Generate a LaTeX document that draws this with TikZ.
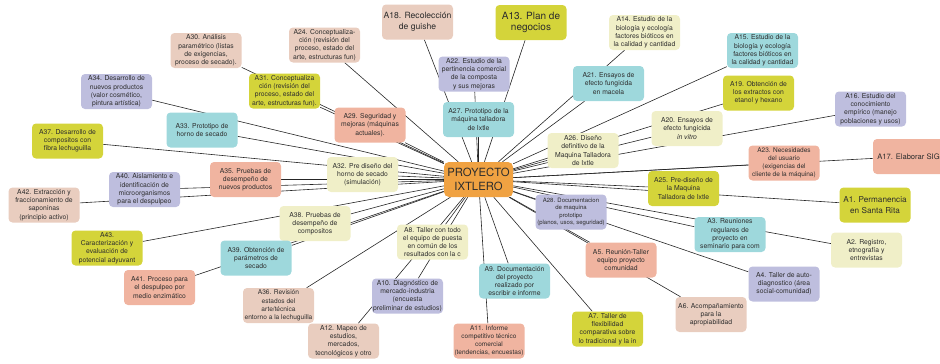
\documentclass[tikz,border=0pt]{standalone}
\usepackage{fontspec}
\setmainfont{TeX Gyre Heros}
\usepackage{tikz}
\usetikzlibrary{backgrounds}
\usepackage{xcolor}
\definecolor{peach}{RGB}{233,205,191}
\definecolor{salmon}{RGB}{240,180,160}
\definecolor{mustard}{RGB}{212,212,58}
\definecolor{cream}{RGB}{240,239,200}
\definecolor{teal}{RGB}{158,216,220}
\definecolor{lilac}{RGB}{190,190,222}
\definecolor{orange}{RGB}{240,162,66}
\definecolor{ink}{RGB}{45,45,45}

\tikzset{
  act/.style={rectangle, rounded corners=4pt, fill=#1, text=ink,
    minimum width=71pt, minimum height=35pt, inner sep=1pt, align=center,
    font=\fontsize{6.8}{8.2}\selectfont},
  big/.style={font=\fontsize{8.6}{10.6}\selectfont},
  hub/.style={rectangle, rounded corners=5pt, fill=orange, text=ink,
    minimum width=69pt, minimum height=35pt, inner sep=1pt, align=center,
    font=\fontsize{11.3}{13.3}\selectfont},
  link/.style={draw=black!85, line width=0.6pt}
}

\begin{document}
\begin{tikzpicture}[x=1pt, y=-1pt]

  \useasboundingbox (0,0) rectangle (940,364);

  % Centre
  \node[hub] (proy) at (478.5,179.5) {PROYECTO\\IXTLERO};

  % Top
  \node[act=peach] (a30) at (206,50.5) {A30. Análisis\\paramétrico (listas\\de exigencias,\\proceso de secado).};
  \node[act=peach] (a24) at (324.5,45) {A24. Conceptualiza-\\ción (revisión del\\proceso, estado del\\arte, estructuras fun)};
  \node[act=peach, big] (a18) at (417.5,22) {A18. Recolección\\de guishe};
  \node[act=mustard, font=\fontsize{10}{11}\selectfont] (a13) at (531,22.5) {A13. Plan de\\negocios};
  \node[act=cream] (a14) at (644.5,32.5) {A14. Estudio de la\\biología y ecología\\factores bióticos en\\la calidad y cantidad};
  \node[act=teal] (a15) at (762.5,50.5) {A15. Estudio de la\\biología y ecología\\factores bióticos en\\la calidad y cantidad};
  \node[act=lilac] (a22) at (474,74) {A22. Estudio de la\\pertinencia comercial\\de la composta\\y sus mejoras};
  \node[act=teal] (a21) at (608.5,83.5) {A21. Ensayos de\\efecto fungicida\\en macela};
  \node[act=mustard] (a19) at (758.5,93) {A19. Obtención de\\los extractos con\\etanol y hexano};
  \node[act=lilac] (a16) at (870.5,109) {A16. Estudio del\\conocimiento\\empírico (manejo\\poblaciones y usos)};
  \node[act=lilac] (a34) at (116.5,91.5) {A34. Desarrollo de\\nuevos productos\\(valor cosmético,\\pintura artística)};
  \node[act=mustard] (a31) at (284.5,91) {A31. Conceptualiza\\ción (revisión del\\proceso, estado del\\arte, estructuras fun).};
  \node[act=teal] (a27) at (478.5,119.5) {A27. Prototipo de la\\máquina talladora\\de Ixtle};
  \node[act=salmon] (a29) at (370,125) {A29. Seguridad y\\mejoras (máquinas\\actuales).};
  \node[act=teal] (a33) at (202,130) {A33. Prototipo de\\horno de secado};
  \node[act=cream] (a20) at (687,128.5) {A20. Ensayos de\\efecto fungicida\\\textit{in vitro}};

  % Middle
  \node[act=mustard] (a37) at (67.5,141) {A37. Desarrollo de\\compositos con\\fibra lechuguilla};
  \node[act=cream] (a26) at (583,150.5) {A26. Diseño\\definitivo de la\\Maquina Talladora\\de Ixtle};
  \node[act=cream] (a32) at (362.5,174.5) {A32. Pre diseño del\\horno de secado\\(simulación)};
  \node[act=salmon] (a35) at (245.5,179.5) {A35. Pruebas de\\desempeño de\\nuevos productos};
  \node[act=salmon, font=\fontsize{6.5}{8.2}\selectfont] (a23) at (784,163) {A23. Necesidades\\del usuario\\(exigencias del\\cliente de la máquina)};
  \node[act=salmon, font=\fontsize{7.6}{10.6}\selectfont] (a17) at (908.5,156.5) {A17. Elaborar SIG};
  \node[act=lilac] (a40) at (144.5,189.5) {A40. Aislamiento e\\identificación de\\microorganismos\\para el despulpeo};
  \node[act=mustard] (a25) at (683.5,188.5) {A25. Pre-diseño de\\la Maquina\\Talladora de Ixtle};
  \node[act=peach] (a42) at (44,205) {A42. Extracción y\\fraccionamiento de\\saponinas\\(principio activo)};
  \node[act=mustard, font=\fontsize{8.2}{10.6}\selectfont] (a1) at (875,205) {A1. Permanencia\\en Santa Rita};
  \node[act=lilac, font=\fontsize{6}{7.6}\selectfont] (a28) at (571,212) {A28. Documentacion\\de maquina\\prototipo\\(planos, usos, seguridad)};

  % Bottom
  \node[act=cream] (a38) at (315,223.5) {A38. Pruebas de\\desempeño de\\compositos};
  \node[act=cream] (a8) at (432.5,242) {A8. Taller con todo\\el equipo de puesta\\en común de los\\resultados con la c};
  \node[act=teal] (a3) at (730,234.5) {A3. Reuniones\\regulares de\\proyecto en\\seminario para com};
  \node[act=cream] (a2) at (866.5,250) {A2. Registro,\\etnografía y\\entrevistas};
  \node[act=mustard] (a43) at (107,248) {A43.\\Caracterización y\\evaluación de\\potencial adyuvant};
  \node[act=teal] (a39) at (256,258) {A39. Obtención de\\parámetros de\\secado};
  \node[act=salmon] (a5) at (621,260) {A5. Reunión-Taller\\equipo proyecto\\comunidad};
  \node[act=salmon] (a41) at (159.5,287.5) {A41. Proceso para\\el despulpeo por\\medio enzimático};
  \node[act=lilac] (a10) at (407.5,296) {A10. Diagnóstico de\\mercado-industria\\(encuesta\\preliminar de estudios)};
  \node[act=teal] (a9) at (514.5,281) {A9. Documentación\\del proyecto\\realizado por\\escribir e informe};
  \node[act=lilac] (a4) at (784,284) {A4. Taller de auto-\\diagnostico (área\\social-comunidad)};
  \node[act=peach, font=\fontsize{6.6}{8.2}\selectfont] (a36) at (278.5,305.5) {A36. Revisión\\estados del\\arte/técnica\\entorno a la lechuguilla};
  \node[act=peach] (a6) at (711,314.5) {A6. Acompañamiento\\para la\\apropiabilidad};
  \node[act=mustard] (a7) at (607.5,329) {A7. Taller de\\flexibilidad\\comparativa sobre\\lo tradicional y la in};
  \node[act=peach] (a12) at (343.5,341) {A12. Mapeo de\\estudios,\\mercados,\\tecnológicos y otro};
  \node[act=salmon, font=\fontsize{6.5}{8.2}\selectfont] (a11) at (489,341) {A11. Informe\\competitivo técnico\\comercial\\(tendencias, encuestas)};

  % Connectors, behind the boxes
  \begin{scope}[on background layer]
    \foreach \n in {a1,a2,a3,a4,a5,a6,a7,a8,a9,a10,a11,a12,a13,a14,a15,a16,a17,a18,a19,a20,a21,a22,a23,a24,a25,a26,a27,a28,a29,a30,a31,a32,a33,a34,a35,a36,a37,a38,a39,a40,a41,a42,a43}
      \draw[link] (proy) -- (\n);
  \end{scope}

\end{tikzpicture}
\end{document}
